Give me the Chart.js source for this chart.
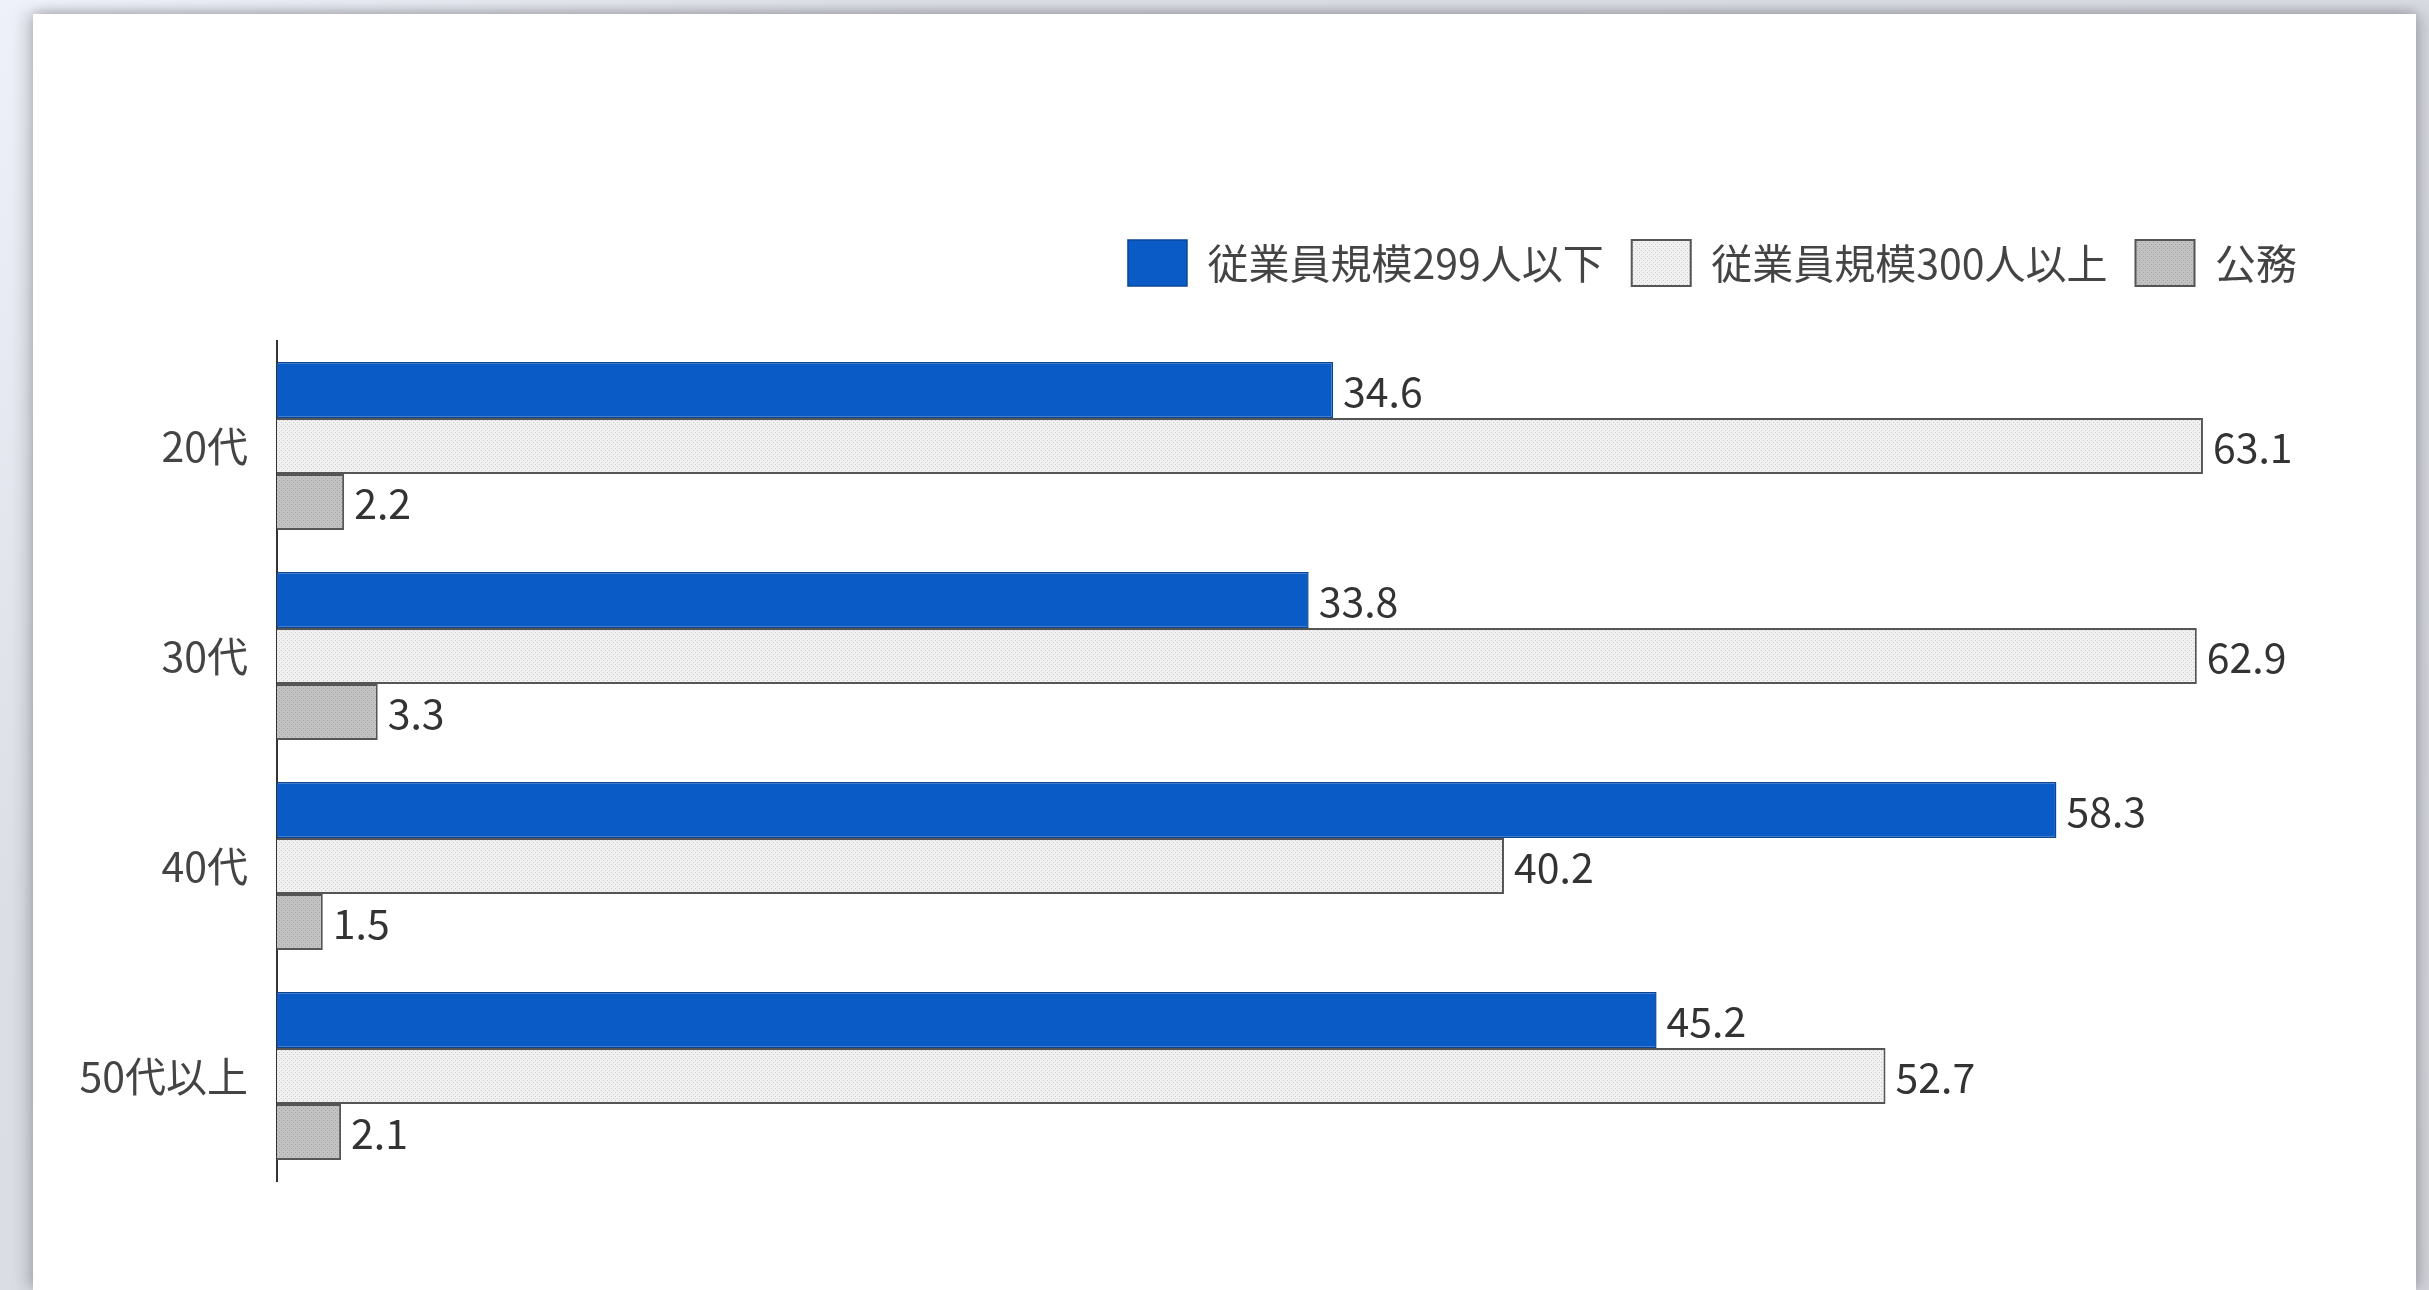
<!DOCTYPE html>
<html><head><meta charset="utf-8">
<script src="https://cdn.jsdelivr.net/npm/chart.js@4"></script>
<style>
html,body{margin:0;padding:0;width:2429px;height:1290px;overflow:hidden;background:linear-gradient(135deg,#eef1f9 0%,#dcdee6 25%,#d5d7de 100%);}
#card{position:absolute;left:33px;top:14px;width:2383px;height:1276px;background:#fff;box-shadow:-8px 0 14px rgba(0,0,0,0.16),8px 0 14px rgba(0,0,0,0.16),0 -4px 8px rgba(0,0,0,0.08);}
canvas{display:block}
</style></head><body>
<div id="card"><canvas id="c" width="2383" height="1276" style="width:2383px;height:1276px"></canvas></div>
<script>
const categories = ['20代', '30代', '40代', '50代以上'];
const seriesNames = ['従業員規模299人以下', '従業員規模300人以上', '公務'];
const smallFirms = [34.6, 33.8, 58.3, 45.2];
const largeFirms = [63.1, 62.9, 40.2, 52.7];
const publicService = [2.2, 3.3, 1.5, 2.1];

const FONT = '"Noto Sans CJK JP", "Noto Sans", sans-serif';
const FSIZE = 41;

function dotPattern(bg, dot) {
  const c = document.createElement('canvas');
  c.width = 4; c.height = 4;
  const x = c.getContext('2d');
  x.fillStyle = bg; x.fillRect(0, 0, 4, 4);
  x.fillStyle = dot; x.fillRect(0, 0, 1, 1); x.fillRect(2, 2, 1, 1);
  return x.createPattern(c, 'repeat');
}
const lightPat = dotPattern('#f1f1f1', '#c9c9c9');
const grayPat = dotPattern('#c2c2c2', '#a2a2a2');

const valueLabels = {
  id: 'valueLabels',
  afterDatasetsDraw(chart) {
    const ctx = chart.ctx;
    ctx.save();
    ctx.font = FSIZE + 'px ' + FONT;
    ctx.fillStyle = '#333';
    ctx.textBaseline = 'middle';
    ctx.textAlign = 'left';
    chart.data.datasets.forEach((ds, i) => {
      const meta = chart.getDatasetMeta(i);
      meta.data.forEach((bar, j) => {
        ctx.fillText(ds.data[j].toFixed(1), bar.x + 10, bar.y + 1);
      });
    });
    ctx.restore();
  }
};

new Chart(document.getElementById('c'), {
  type: 'bar',
  data: {
    labels: categories,
    datasets: [
      { label: seriesNames[0], data: smallFirms, backgroundColor: '#0a5bc6', borderColor: '#0a4596', borderWidth: 1.5, borderSkipped: 'start' },
      { label: seriesNames[1], data: largeFirms, backgroundColor: lightPat, borderColor: '#555', borderWidth: 2, borderSkipped: 'start' },
      { label: seriesNames[2], data: publicService, backgroundColor: grayPat, borderColor: '#555', borderWidth: 2, borderSkipped: 'start' }
    ]
  },
  options: {
    indexAxis: 'y',
    responsive: false,
    animation: false,
    datasets: { bar: { categoryPercentage: 0.8, barPercentage: 1.0 } },
    layout: { padding: { left: 0, right: 91, top: 198, bottom: 109 } },
    plugins: {
      legend: {
        position: 'top', align: 'end',
        labels: { boxWidth: 59, boxHeight: 46, padding: 28, color: '#444', font: { size: FSIZE, family: FONT } }
      },
      tooltip: { enabled: false }
    },
    scales: {
      x: {
        position: 'top', min: 0, max: 67.1,
        grid: { display: false, drawTicks: false },
        border: { display: false },
        ticks: { display: false },
        afterFit(s) { s.height = 45; }
      },
      y: {
        grid: { display: false, drawTicks: false },
        border: { display: true, color: '#333', width: 2 },
        ticks: { color: '#444', padding: 29, font: { size: FSIZE, family: FONT } },
        afterFit(s) { s.width = 244; }
      }
    }
  },
  plugins: [valueLabels]
});
</script>
</body></html>
